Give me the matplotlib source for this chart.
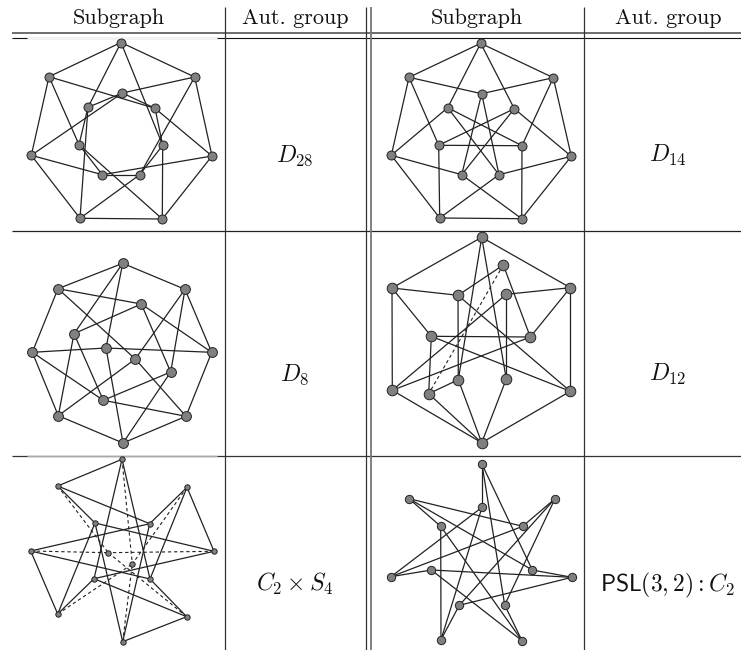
import matplotlib
matplotlib.use('Agg')
import matplotlib.pyplot as plt

plt.rcParams['mathtext.fontset'] = 'cm'
plt.rcParams['font.family'] = 'serif'
plt.rcParams['font.serif'] = ['cmr10', 'DejaVu Serif']
plt.rcParams['axes.formatter.use_mathtext'] = True

# column titles and automorphism groups
titres = ['Subgraph', 'Aut. group', 'Subgraph', 'Aut. group']
x_titres = [118.5, 295, 477, 668]
groupes = ['$D_{28}$', '$D_{14}$', '$D_8$', '$D_{12}$', '$C_2 \\times S_4$', '$\\mathsf{PSL}(3,2):C_2$']
x_groupes = [295, 668, 295, 668, 295, 667]
y_groupes = [162, 162, 381, 381, 591, 591]

# graph A
noeuds_a = [(121, 42.5), (194.7, 77), (212, 156), (162.3, 219), (80, 218.3), (31.3, 155.3), (49, 76.7),
            (122.3, 93), (155, 108.3), (162.7, 145.3), (139.7, 174.7), (102.3, 174.7), (79, 144.7), (88, 107.3)]
aretes_a = [(0, 1), (1, 2), (2, 3), (3, 4), (4, 5), (5, 6), (6, 0), (0, 13), (0, 9), (1, 7), (1, 10), (2, 8), (2, 11),
            (3, 9), (3, 12), (4, 10), (4, 13), (5, 11), (5, 7), (6, 8), (6, 12),
            (7, 13), (7, 8), (8, 9), (9, 10), (10, 11), (11, 12), (12, 13)]

# graph B
noeuds_b = [(480.7, 43.3), (553.3, 77.7), (571.3, 156.3), (521.7, 218.7), (439.7, 218), (391.3, 155.3), (409, 77.3),
            (481.7, 93.7), (514.3, 108.7), (522, 145.7), (499, 174.7), (461.7, 174.7), (438.7, 145.3), (447.7, 107.7)]
aretes_b = [(0, 1), (1, 2), (2, 3), (3, 4), (4, 5), (5, 6), (6, 0), (0, 13), (0, 8), (1, 7), (1, 9), (2, 8), (2, 10),
            (3, 9), (3, 11), (4, 10), (4, 12), (5, 13), (5, 11), (6, 7), (6, 12),
            (7, 11), (7, 10), (8, 12), (8, 11), (9, 13), (9, 12), (10, 13)]

# graph C
noeuds_c = [(122.7, 263.3), (185, 289.3), (211.7, 352.3), (186, 416.3), (123, 443), (58.3, 415.7), (32.3, 352.3),
            (58, 288.7), (141.3, 304), (74, 333.7), (106, 348), (135.3, 359), (170.7, 372), (103.3, 400.3)]
aretes_c = [(0, 1), (1, 2), (2, 3), (3, 4), (4, 5), (5, 6), (6, 7), (7, 0), (0, 9), (0, 10), (1, 11), (1, 12),
            (2, 8), (2, 10), (3, 11), (3, 13), (4, 10), (4, 12), (5, 9), (5, 11), (6, 10), (6, 13),
            (7, 8), (7, 11), (8, 9), (8, 12), (9, 13), (12, 13)]

# graph D
noeuds_d = [(481.7, 237.3), (570.3, 287.7), (570.3, 391.3), (481.7, 442.7), (392.3, 390.3), (392, 288),
            (503.3, 265), (458, 295.3), (506.3, 294.3), (431.3, 336.3), (530.3, 337), (458.3, 379.7), (506.3, 379), (428.7, 393.7)]
aretes_d = [(0, 1), (1, 2), (2, 3), (3, 4), (4, 5), (5, 0), (0, 11), (0, 12), (1, 8), (1, 10), (2, 7), (2, 9),
            (3, 11), (3, 12), (3, 13), (4, 8), (4, 10), (5, 7), (5, 9), (6, 7), (6, 10),
            (7, 11), (8, 12), (9, 10), (9, 13), (11, 13)]
pointilles_d = [(6, 13)]

# graph E
noeuds_e = [(122, 459.3), (187, 487.3), (214, 551.3), (186.7, 616.7), (122.7, 641.7), (57.7, 614), (30.7, 551), (57.7, 486),
            (149.7, 523.7), (95, 523), (108.3, 552.7), (132.3, 564), (150, 579), (94, 578.7)]
aretes_e = [(0, 7), (0, 12), (0, 13), (1, 2), (1, 8), (1, 12), (2, 9), (2, 13), (3, 4), (3, 12), (3, 13),
            (4, 8), (4, 9), (5, 6), (5, 9), (5, 13), (6, 8), (6, 12), (7, 8), (7, 9)]
pointilles_e = [(0, 11), (1, 11), (5, 11), (4, 11), (2, 10), (6, 10), (7, 10), (3, 10)]

# graph F
noeuds_f = [(482, 464.3), (555, 498.7), (572, 577.3), (522, 640.7), (441, 639.7), (391, 576.7), (409, 498.7),
            (482, 507.3), (522.7, 526.3), (532.3, 570), (504.7, 605), (459.3, 605.3), (431.3, 570), (440.7, 526.3)]
aretes_f = [(0, 7), (0, 9), (0, 10), (1, 8), (1, 10), (1, 11), (2, 9), (2, 11), (2, 12), (3, 10), (3, 12), (3, 13),
            (4, 11), (4, 13), (4, 7), (5, 12), (5, 7), (5, 8), (6, 13), (6, 8), (6, 9)]

fig = plt.figure(figsize=(7.41, 6.5), dpi=100)
ax = fig.add_axes([0, 0, 1, 1])
ax.set_xlim(0, 741)
ax.set_ylim(650, 0)
ax.axis('off')

# table rules
ax.hlines(33, 12, 741, color='#555555', lw=1.2)
ax.hlines(38, 12, 741, color='#111111', lw=0.8)
ax.hlines(231, 12, 741, color='#222222', lw=0.9)
ax.hlines(456, 12, 741, color='#333333', lw=0.9)
ax.vlines([225, 366, 584], 7, 650, color='#333333', lw=0.9)
ax.vlines(371, 7, 650, color='#777777', lw=1.3)

# the white boxes of the pictures hide or fade part of the rules
ax.hlines(38, 27, 217, color='#f4f4f4', lw=1.0, zorder=2)
ax.hlines(456, 27, 217, color='#aaaaaa', lw=1.0, zorder=2)


def dessine(noeuds, aretes, pointilles=(), taille=45):
    for i, j in aretes:
        ax.plot([noeuds[i][0], noeuds[j][0]], [noeuds[i][1], noeuds[j][1]], color='#222222', lw=0.9, zorder=3)
    for i, j in pointilles:
        ax.plot([noeuds[i][0], noeuds[j][0]], [noeuds[i][1], noeuds[j][1]], color='#222222', lw=0.8, ls=(0, (3, 2.5)), zorder=3)
    ax.scatter([n[0] for n in noeuds], [n[1] for n in noeuds], s=taille, color='#808080', edgecolor='#222222', lw=0.7, zorder=4)


dessine(noeuds_a, aretes_a, taille=42)
dessine(noeuds_b, aretes_b, taille=42)
dessine(noeuds_c, aretes_c, taille=50)
dessine(noeuds_d, aretes_d, pointilles_d, taille=58)
dessine(noeuds_e, aretes_e, pointilles_e, taille=15)
dessine(noeuds_f, aretes_f, taille=36)

for x, t in zip(x_titres, titres):
    ax.text(x, 18, t, ha='center', va='center', fontsize=16, color='#111111')
for x, y, g in zip(x_groupes, y_groupes, groupes):
    ax.text(x, y, g, ha='center', va='baseline', fontsize=17, color='#111111')

fig.savefig('out.png', dpi=100)
